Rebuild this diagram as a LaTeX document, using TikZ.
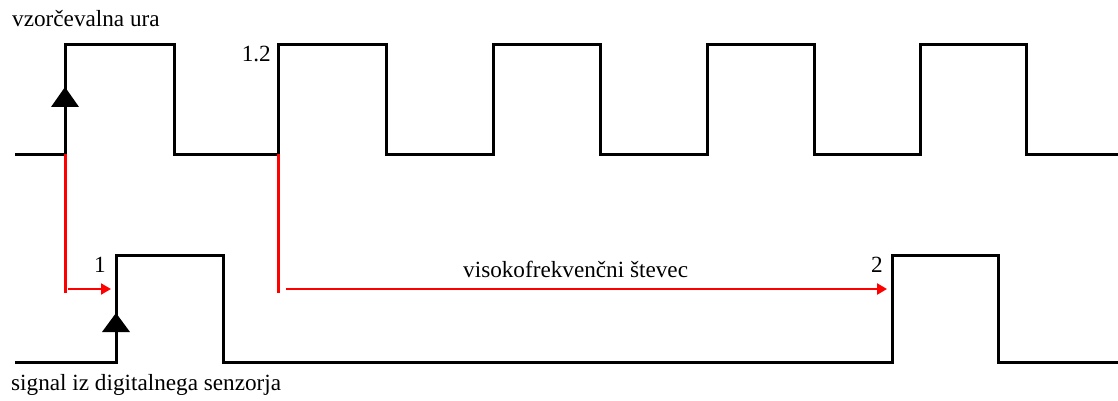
\documentclass[tikz,border=0pt]{standalone}
\usepackage{fontspec}
\setmainfont{Liberation Serif}
\usetikzlibrary{arrows.meta}
\begin{document}
\begin{tikzpicture}[x=1pt,y=-1pt,
  wave/.style={draw=black,line width=3pt,line join=miter},
  edgetip/.style={fill=black},
  redline/.style={draw=red,line width=3pt},
  redarrow/.style={draw=red,line width=2.8pt,-{Triangle[length=10pt,width=11pt]}},
  lbl/.style={inner sep=0pt,font=\fontsize{23.2}{26}\selectfont}]
\useasboundingbox (0,0) rectangle (1118,401);

% sampling clock
\coordinate (c0) at (65,154);
\coordinate (c1) at (278,154);
\draw[wave] (15,154) -- (c0) -- (65,45) -- (174,45) -- (174,154) -- (c1) -- (278,45)
  -- (386,45) -- (386,154) -- (493,154) -- (493,45) -- (600,45) -- (600,154)
  -- (707,154) -- (707,45) -- (814,45) -- (814,154) -- (920,154) -- (920,45)
  -- (1026,45) -- (1026,154) -- (1118,154);

% sensor signal
\coordinate (s1) at (116,289);
\coordinate (s2) at (892,289);
\draw[wave] (15,362) -- (116,362) -- (116,255) -- (223,255) -- (223,362) -- (892,362)
  -- (892,255) -- (998,255) -- (998,362) -- (1118,362);

% rising-edge markers
\fill[edgetip] (65,87) -- (79,107) -- (51,107) -- cycle;
\fill[edgetip] (116,313) -- (130,332) -- (102,332) -- cycle;

% red timing lines
\coordinate (d0) at (65,293);
\coordinate (d1) at (278,293);
\coordinate (h0) at (68,289);
\coordinate (h1) at (286,289);
\draw[redline] (c0) -- (d0);
\draw[redline] (c1) -- (d1);
\draw[redarrow,line width=2pt] (h0) -- ([xshift=-5pt]s1);
\draw[redarrow] (h1) -- ([xshift=-5pt]s2);

% labels
\node[lbl,anchor=base west] (clk) at (12,27) {vzorčevalna ura};
\node[lbl,anchor=base east] (t12) at (271,62) {1.2};
\node[lbl,anchor=base east] (t1) at (106,272) {1};
\node[lbl,anchor=base east] (t2) at (883,272) {2};
\node[lbl,anchor=base west] (cnt) at (463,277) {visokofrekvenčni števec};
\node[lbl,anchor=base west] (sig) at (11,390) {signal iz digitalnega senzorja};
\end{tikzpicture}
\end{document}
